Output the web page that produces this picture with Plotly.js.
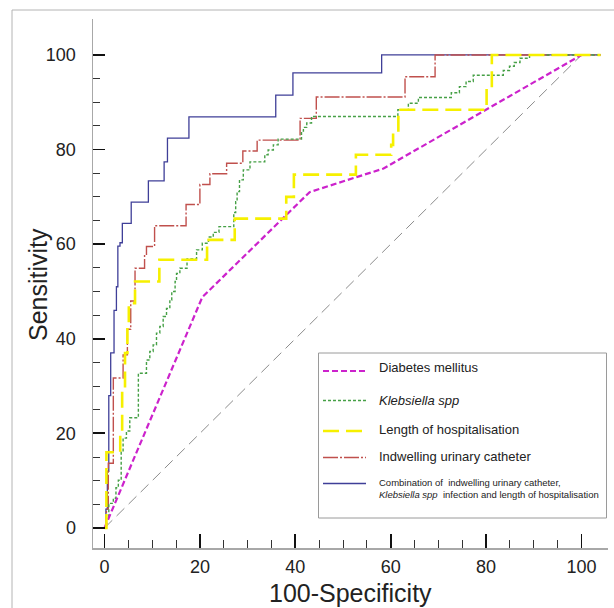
<!DOCTYPE html>
<html>
<head>
<meta charset="utf-8">
<script src="https://cdn.plot.ly/plotly-3.0.1.min.js"></script>
<style>html,body{margin:0;padding:0;background:#fff;}#chart{width:614px;height:608px;}</style>
</head>
<body>
<div id="chart"></div>
<script>
// ---- data (ROC step points: x = 100-Specificity, y = Sensitivity) ----
const seriesNames = ["Diabetes mellitus", "<i>Klebsiella spp</i>", "Length of hospitalisation", "Indwelling urinary catheter", "Combination"];

const diabetesX = [0, 20.5, 43, 58.5, 100];
const diabetesY = [0, 48.8, 71, 76, 100];

const klebsiellaX = [0, 0.3, 0.9, 1.85, 2.4, 2.9, 3.5, 3.9, 4.6, 5.3, 7.1, 8.8, 9.5, 10.2, 10.9, 11.6, 12.3, 13.0, 13.7, 14.1, 14.8, 15.1, 15.8, 17.3, 19.3, 20.5, 21.8, 22.8, 24.0, 27.1, 27.5, 27.8, 28.3, 29.1, 30.5, 33.6, 34.3, 35.4, 36.4, 41.3, 41.7, 42.4, 43.4, 61.5, 63.7, 65.8, 72.7, 74.4, 75.8, 77.3, 83.6, 84.9, 85.9, 87.1, 89.1, 104];
const klebsiellaY = [0, 2.4, 5.2, 6.3, 8.5, 10.1, 16.1, 19.0, 20.5, 23.3, 32.7, 35.5, 37.3, 38.7, 41.2, 42.6, 44.7, 46.4, 48.2, 50.0, 52.1, 53.8, 54.9, 56.9, 58.8, 60.2, 61.5, 62.5, 63.7, 66.7, 69.0, 71.1, 73.6, 75.7, 77.4, 78.9, 79.9, 81.0, 82.2, 83.9, 84.7, 85.6, 87.0, 88.4, 89.8, 91.0, 92.0, 93.3, 94.4, 95.7, 96.7, 97.6, 98.4, 99.3, 100, 100];

const hospX = [0, 0.4, 3.3, 3.7, 4.3, 4.8, 5.1, 6.4, 11.5, 21.5, 27.3, 38.1, 39.7, 52.7, 60.1, 60.5, 61.6, 80.1, 81.2, 104];
const hospY = [0, 16.0, 20.4, 29.2, 37.0, 42.6, 47.5, 52.1, 56.7, 60.9, 65.4, 70.0, 74.7, 78.9, 81.0, 83.4, 88.4, 92.8, 100, 100];

const catheterX = [0, 0.4, 0.8, 1.85, 3.9, 4.8, 5.5, 6.4, 8.4, 8.8, 10.5, 17.1, 20.0, 22.1, 25.6, 29.0, 32.0, 41.0, 44.4, 63.0, 69.3, 104];
const catheterY = [0, 4.0, 13.7, 31.7, 36.6, 42.0, 48.0, 54.9, 57.7, 59.5, 63.9, 68.4, 72.6, 74.9, 77.1, 79.7, 82.0, 86.6, 91.1, 95.4, 100, 100];

const comboX = [0, 0.3, 0.6, 0.9, 1.3, 2.0, 2.5, 2.8, 3.25, 3.74, 5.6, 9.2, 12.5, 13.2, 17.7, 35.9, 39.5, 58.1, 104];
const comboY = [0, 4.0, 12.0, 28.0, 37.0, 46.0, 51.0, 59.6, 60.3, 64.4, 68.9, 73.4, 77.4, 82.4, 86.9, 91.5, 96.2, 100, 100];

const diagX = [0, 100];
const diagY = [0, 100];

const xTickVals = [0, 20, 40, 60, 80, 100];
const xTickText = ["0", "20", "40", "60", "80", "100"];
const yTickVals = [0, 20, 40, 60, 80, 100];
const yTickText = ["0", "20", "40", "60", "80", "100"];
const xTitle = "100-Specificity";
const yTitle = "Sensitivity";

// ---- styles ----
const styles = [
  {color: '#cc22cc', width: 2.2, dash: '6px,3px'},
  {color: '#46a046', width: 1.4, dash: '3px,2px'},
  {color: '#f6f000', width: 2.6, dash: '16px,7px'},
  {color: '#c0504d', width: 1.4, dash: '15px,2px,2px,2px'},
  {color: '#3f3f98', width: 1.3, dash: 'solid'}
];

const L = 93, R = 6, T = 19, B = 60, W = 614, H = 608;
const pw = W - L - R, ph = H - T - B;
const px = v => (v - L) / pw;
const py = v => (H - B - v) / ph;

const traces = [
  {x: diagX, y: diagY, mode: 'lines', line: {color: '#8c8c8c', width: 1, dash: '11px,6px'}, hoverinfo: 'skip'},
  {x: comboX, y: comboY, mode: 'lines', line: Object.assign({shape: 'hv'}, styles[4])},
  {x: catheterX, y: catheterY, mode: 'lines', line: Object.assign({shape: 'hv'}, styles[3])},
  {x: klebsiellaX, y: klebsiellaY, mode: 'lines', line: Object.assign({shape: 'hv'}, styles[1])},
  {x: diabetesX, y: diabetesY, mode: 'lines', line: Object.assign({}, styles[0])},
  {x: hospX, y: hospY, mode: 'lines', line: Object.assign({shape: 'hv'}, styles[2])}
];

// minor tick positions
const xMinor = [], yMinor = [];
for (let v = 5; v <= 100; v += 5) if (v % 20) xMinor.push(v);
for (let v = 5; v < 100; v += 5) if (v % 20) yMinor.push(v);

const frameColor = '#b4b4b4';
const shapes = [
  // outer frame (left and top edges visible)
  {type: 'line', xref: 'paper', yref: 'paper', x0: px(12), x1: px(12), y0: py(608), y1: py(10), line: {color: frameColor, width: 1}},
  {type: 'line', xref: 'paper', yref: 'paper', x0: px(12), x1: px(614), y0: py(10), y1: py(10), line: {color: frameColor, width: 1}},
  // legend box
  {type: 'rect', xref: 'paper', yref: 'paper', x0: px(318.5), x1: px(606.5), y0: py(518), y1: py(353), line: {color: '#9a9a9a', width: 1}, fillcolor: '#ffffff'}
];
const annotations = [];
const legendLineY = [371, 400.5, 431, 457.5, 483.5];
const legendTextY = [367, 400, 429.5, 456.5];
for (let i = 0; i < 5; i++) {
  const s = styles[i];
  shapes.push({type: 'line', xref: 'paper', yref: 'paper', x0: px(323), x1: px(366), y0: py(legendLineY[i]), y1: py(legendLineY[i]),
    line: {color: s.color, width: s.width, dash: s.dash}});
}
const fam = 'Liberation Sans, Arial, sans-serif';
for (let i = 0; i < 4; i++) {
  annotations.push({xref: 'paper', yref: 'paper', x: px(377), y: py(legendTextY[i]), text: seriesNames[i], showarrow: false,
    xanchor: 'left', yanchor: 'middle', font: {family: fam, size: 13, color: '#222'}});
}
annotations.push({xref: 'paper', yref: 'paper', x: px(377), y: py(482.5), text: 'Combination of&nbsp; indwelling urinary catheter,', showarrow: false,
  xanchor: 'left', yanchor: 'middle', font: {family: fam, size: 9.5, color: '#222'}});
annotations.push({xref: 'paper', yref: 'paper', x: px(377), y: py(494), text: '<i>Klebsiella spp</i>&nbsp; infection and length of hospitalisation', showarrow: false,
  xanchor: 'left', yanchor: 'middle', font: {family: fam, size: 9.5, color: '#222'}});
// axis titles
annotations.push({xref: 'paper', yref: 'paper', x: px(350.5), y: py(593), text: xTitle, showarrow: false,
  xanchor: 'center', yanchor: 'middle', font: {family: fam, size: 25, color: '#222'}});
annotations.push({xref: 'paper', yref: 'paper', x: px(38), y: py(285), text: yTitle, showarrow: false, textangle: -90,
  xanchor: 'center', yanchor: 'middle', font: {family: fam, size: 25, color: '#222'}});

const layout = {
  width: W, height: H,
  margin: {l: L, r: R, t: T, b: B, pad: 0},
  paper_bgcolor: '#fff', plot_bgcolor: '#fff',
  showlegend: false,
  font: {family: fam, color: '#222'},
  xaxis: {
    range: [-2.41, 105.55], showgrid: false, zeroline: false,
    showline: true, linecolor: '#a8a8a8', linewidth: 1.5,
    tickmode: 'array', tickvals: xTickVals, ticktext: xTickText,
    ticks: 'inside', ticklen: 14, tickwidth: 1.8, tickcolor: '#111',
    minor: {tickmode: 'array', tickvals: xMinor, ticks: 'inside', ticklen: 8, tickwidth: 1, tickcolor: '#333'},
    tickfont: {size: 18, color: '#222'}, ticklabelstandoff: 2,
    automargin: false
  },
  yaxis: {
    range: [-4.23, 107.6], showgrid: false, zeroline: false,
    showline: true, linecolor: '#a8a8a8', linewidth: 1.5,
    tickmode: 'array', tickvals: yTickVals, ticktext: yTickText,
    ticks: 'inside', ticklen: 12, tickwidth: 1.8, tickcolor: '#111',
    minor: {tickmode: 'array', tickvals: yMinor, ticks: 'inside', ticklen: 7, tickwidth: 1, tickcolor: '#333'},
    tickfont: {size: 18, color: '#222'}, ticklabelstandoff: 12,
    automargin: false
  },
  shapes: shapes,
  annotations: annotations
};

Plotly.newPlot('chart', traces, layout, {displayModeBar: false, staticPlot: true});
</script>
</body>
</html>
